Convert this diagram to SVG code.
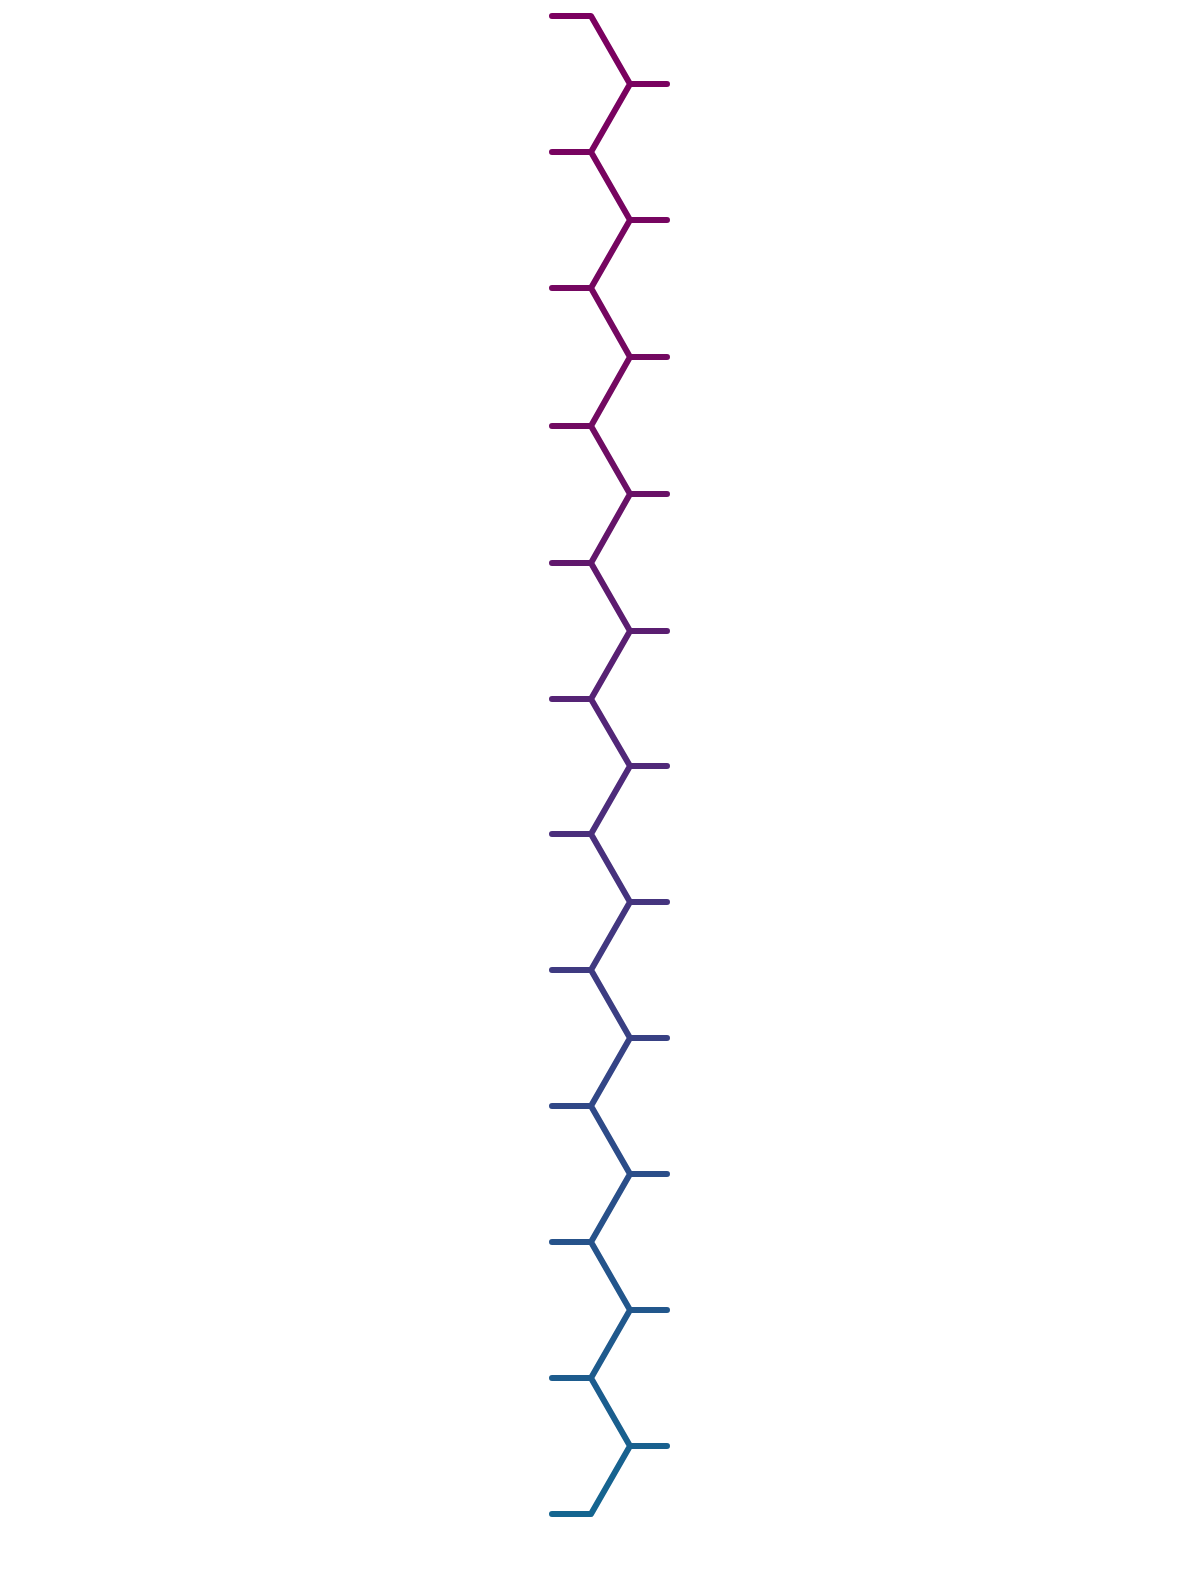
<svg xmlns="http://www.w3.org/2000/svg" width="1200" height="1569" viewBox="0 0 1200 1569">
<defs>
<linearGradient id="g" gradientUnits="userSpaceOnUse" x1="0" y1="16" x2="0" y2="1513">
<stop offset="0" stop-color="#7b005f"/>
<stop offset="0.27" stop-color="#720a61"/>
<stop offset="0.38" stop-color="#5e1a6e"/>
<stop offset="0.51" stop-color="#4f2a7a"/>
<stop offset="0.66" stop-color="#3c3d82"/>
<stop offset="0.74" stop-color="#2e4a88"/>
<stop offset="1" stop-color="#146590"/>
</linearGradient>
<style>
.s{fill:none;stroke:url(#g);stroke-width:6;stroke-linecap:round;stroke-linejoin:round}
</style>
</defs>
<rect width="1200" height="1569" fill="#ffffff"/>
<g id="chain" class="s">
<polyline points="552,16 591,16 630,84 591,152 630,220 591,288 630,357 591,426 630,494 591,563 630,631 591,699 630,766 591,834 630,902 591,970 630,1038 591,1106 630,1174 591,1242 630,1310 591,1378 630,1446 591,1514 552,1514"/>
</g>
<g id="stubs" class="s">
<path d="M630,84H667M630,220H667M630,357H667M630,494H667M630,631H667M630,766H667M630,902H667M630,1038H667M630,1174H667M630,1310H667M630,1446H667"/>
<path d="M552,152H591M552,288H591M552,426H591M552,563H591M552,699H591M552,834H591M552,970H591M552,1106H591M552,1242H591M552,1378H591"/>
</g>
</svg>
